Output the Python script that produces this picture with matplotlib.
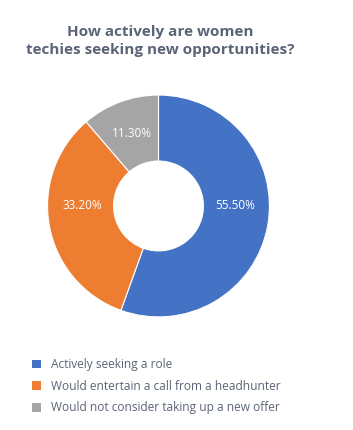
import matplotlib
matplotlib.use("Agg")
import matplotlib.pyplot as plt
from matplotlib.patches import Patch

plt.rcParams['font.family'] = ['Open Sans', 'DejaVu Sans']

labels = ["Actively seeking a role",
          "Would entertain a call from a headhunter",
          "Would not consider taking up a new offer"]
shares = [55.5, 33.2, 11.3]
colors = ["#4472C4", "#ED7D31", "#A5A5A5"]

fig = plt.figure(figsize=(3.53, 4.30), dpi=100)
fig.patch.set_facecolor("white")

fig.text(0.455, 0.905, "How actively are women\ntechies seeking new opportunities?",
         ha="center", va="center", fontsize=11, fontweight="bold",
         color="#5b6477", linespacing=1.35)

ax = fig.add_axes([0.1345, 0.263, 0.629, 0.516])
wedges, texts, autotexts = ax.pie(
    shares, colors=colors, startangle=90, counterclock=False,
    radius=1.0, wedgeprops=dict(width=0.595, edgecolor="white", linewidth=0.8),
    autopct=lambda p: "%.2f%%" % p, pctdistance=0.70,
    textprops=dict(color="white", fontsize=8.5))
# the two big slices carry their labels on the horizontal line through the centre
for t in autotexts[:2]:
    x, y = t.get_position()
    t.set_position((x, 0))
ax.set_xlim(-1, 1)
ax.set_ylim(-1, 1)
ax.set_aspect("equal")
ax.axis("off")

handles = [Patch(facecolor=c, edgecolor="none") for c in colors]
fig.legend(handles, labels, loc="upper left", bbox_to_anchor=(0.078, 0.178),
           frameon=False, fontsize=8.6, labelcolor="#5b6477",
           handlelength=0.75, handleheight=0.75, handletextpad=0.8,
           labelspacing=0.72, borderaxespad=0)

fig.savefig("out.png", dpi=100)
